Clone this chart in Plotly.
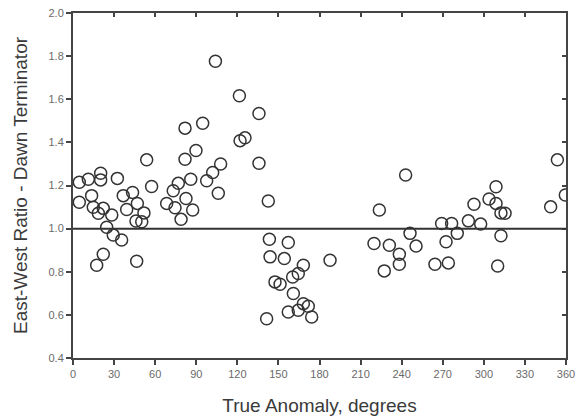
import plotly.graph_objects as go

true_anomaly = [4.6, 4.6, 11.2, 13.6, 14.8, 17.3, 18.5, 20.2, 20.2, 22.1, 22.1, 24.6, 28.3, 29.4,
                32.4, 35.5, 36.7, 39.2, 43.5, 46.0, 46.5, 47.0, 50.2, 51.8, 53.8, 57.4, 68.4, 73.2,
                74.5, 76.9, 78.9, 81.8, 81.8, 82.5, 86.0, 87.4, 89.8, 94.7, 97.6, 102.0, 104.0,
                106.1, 107.8, 121.5, 122.0, 125.6, 135.8, 135.8, 141.4, 142.6, 143.4, 143.9, 147.5,
                151.2, 154.3, 157.2, 157.2, 160.4, 160.9, 164.5, 164.5, 168.2, 168.2, 171.8, 174.3,
                187.7, 219.8, 223.7, 227.3, 231.0, 238.3, 238.3, 242.9, 246.1, 250.5, 264.3, 269.2,
                272.4, 274.1, 276.5, 280.6, 288.7, 292.8, 297.7, 303.8, 308.9, 308.9, 310.1, 312.5,
                312.5, 315.5, 348.8, 353.7, 359.5]
ew_ratio = [1.215, 1.122, 1.229, 1.153, 1.099, 0.830, 1.071, 1.257, 1.226, 1.094, 0.881, 1.006, 1.063, 0.970,
            1.233, 0.947, 1.153, 1.089, 1.168, 1.035, 0.849, 1.117, 1.032, 1.073, 1.319, 1.195, 1.117, 1.176,
            1.097, 1.210, 1.043, 1.466, 1.322, 1.140, 1.229, 1.086, 1.362, 1.489, 1.222, 1.260, 1.776,
            1.164, 1.300, 1.616, 1.408, 1.421, 1.534, 1.303, 0.582, 1.128, 0.951, 0.869, 0.753,
            0.742, 0.861, 0.936, 0.613, 0.776, 0.699, 0.792, 0.621, 0.830, 0.652, 0.640, 0.590,
            0.853, 0.931, 1.086, 0.804, 0.923, 0.881, 0.835, 1.249, 0.978, 0.919, 0.835, 1.024,
            0.939, 0.841, 1.024, 0.978, 1.036, 1.113, 1.021, 1.137, 1.194, 1.117, 0.827, 1.073,
            0.967, 1.071, 1.101, 1.319, 1.156]

x_ticks = list(range(0, 361, 30))
y_ticks = [0.4, 0.6, 0.8, 1.0, 1.2, 1.4, 1.6, 1.8, 2.0]
y_tick_text = [f"{v:.1f}" for v in y_ticks]
x_range = [0, 360]
y_range = [0.4, 2.0]
ref_value = 1.0

axis_col = "#444444"
label_col = "#6a6a6a"
title_col = "#3a3a3a"

fig = go.Figure()
fig.add_trace(go.Scatter(
    x=true_anomaly, y=ew_ratio, mode="markers",
    marker=dict(symbol="circle-open", size=12, color="#333333", line=dict(width=1.5, color="#333333")),
    showlegend=False, hoverinfo="x+y"))
# invisible trace to make the mirrored (inside-tick) axes render
fig.add_trace(go.Scatter(x=[x_range[0]], y=[y_range[0]], xaxis="x2", yaxis="y2",
                         mode="markers", marker=dict(opacity=0), showlegend=False, hoverinfo="skip"))

fig.add_shape(type="line", xref="paper", yref="y", x0=0, x1=1, y0=ref_value, y1=ref_value,
              line=dict(color="#333333", width=2))

font = dict(family="Liberation Sans, Arial, sans-serif")
fig.update_layout(
    width=585, height=419,
    margin=dict(l=73, r=19, t=13, b=61),
    paper_bgcolor="white", plot_bgcolor="white",
    font=font,
    xaxis=dict(range=x_range, tickvals=x_ticks, ticks="outside", ticklen=5, tickwidth=1.5,
               tickcolor=axis_col, showline=True, linecolor=axis_col, linewidth=2, showgrid=False,
               zeroline=False, tickfont=dict(size=11, color=label_col), automargin=False,
               title=dict(text="True Anomaly, degrees", font=dict(size=19, color=title_col), standoff=19)),
    yaxis=dict(range=y_range, tickvals=y_ticks, ticktext=y_tick_text, ticks="outside", ticklen=5,
               tickwidth=1.5, tickcolor=axis_col, showline=True, linecolor=axis_col, linewidth=2,
               showgrid=False, zeroline=False, tickfont=dict(size=11, color=label_col), automargin=False,
               title=dict(text="East-West Ratio - Dawn Terminator", font=dict(size=19, color=title_col),
                          standoff=16)),
    xaxis2=dict(range=x_range, tickvals=x_ticks, overlaying="x", side="top", anchor="y2", ticks="inside",
                ticklen=4, tickwidth=1.5, tickcolor=axis_col, showticklabels=False, showline=True,
                linecolor=axis_col, linewidth=2, showgrid=False, zeroline=False),
    yaxis2=dict(range=y_range, tickvals=y_ticks, overlaying="y", side="right", anchor="x2", ticks="inside",
                ticklen=4, tickwidth=1.5, tickcolor=axis_col, showticklabels=False, showline=True,
                linecolor=axis_col, linewidth=2, showgrid=False, zeroline=False),
)

fig.write_html("out.html")
